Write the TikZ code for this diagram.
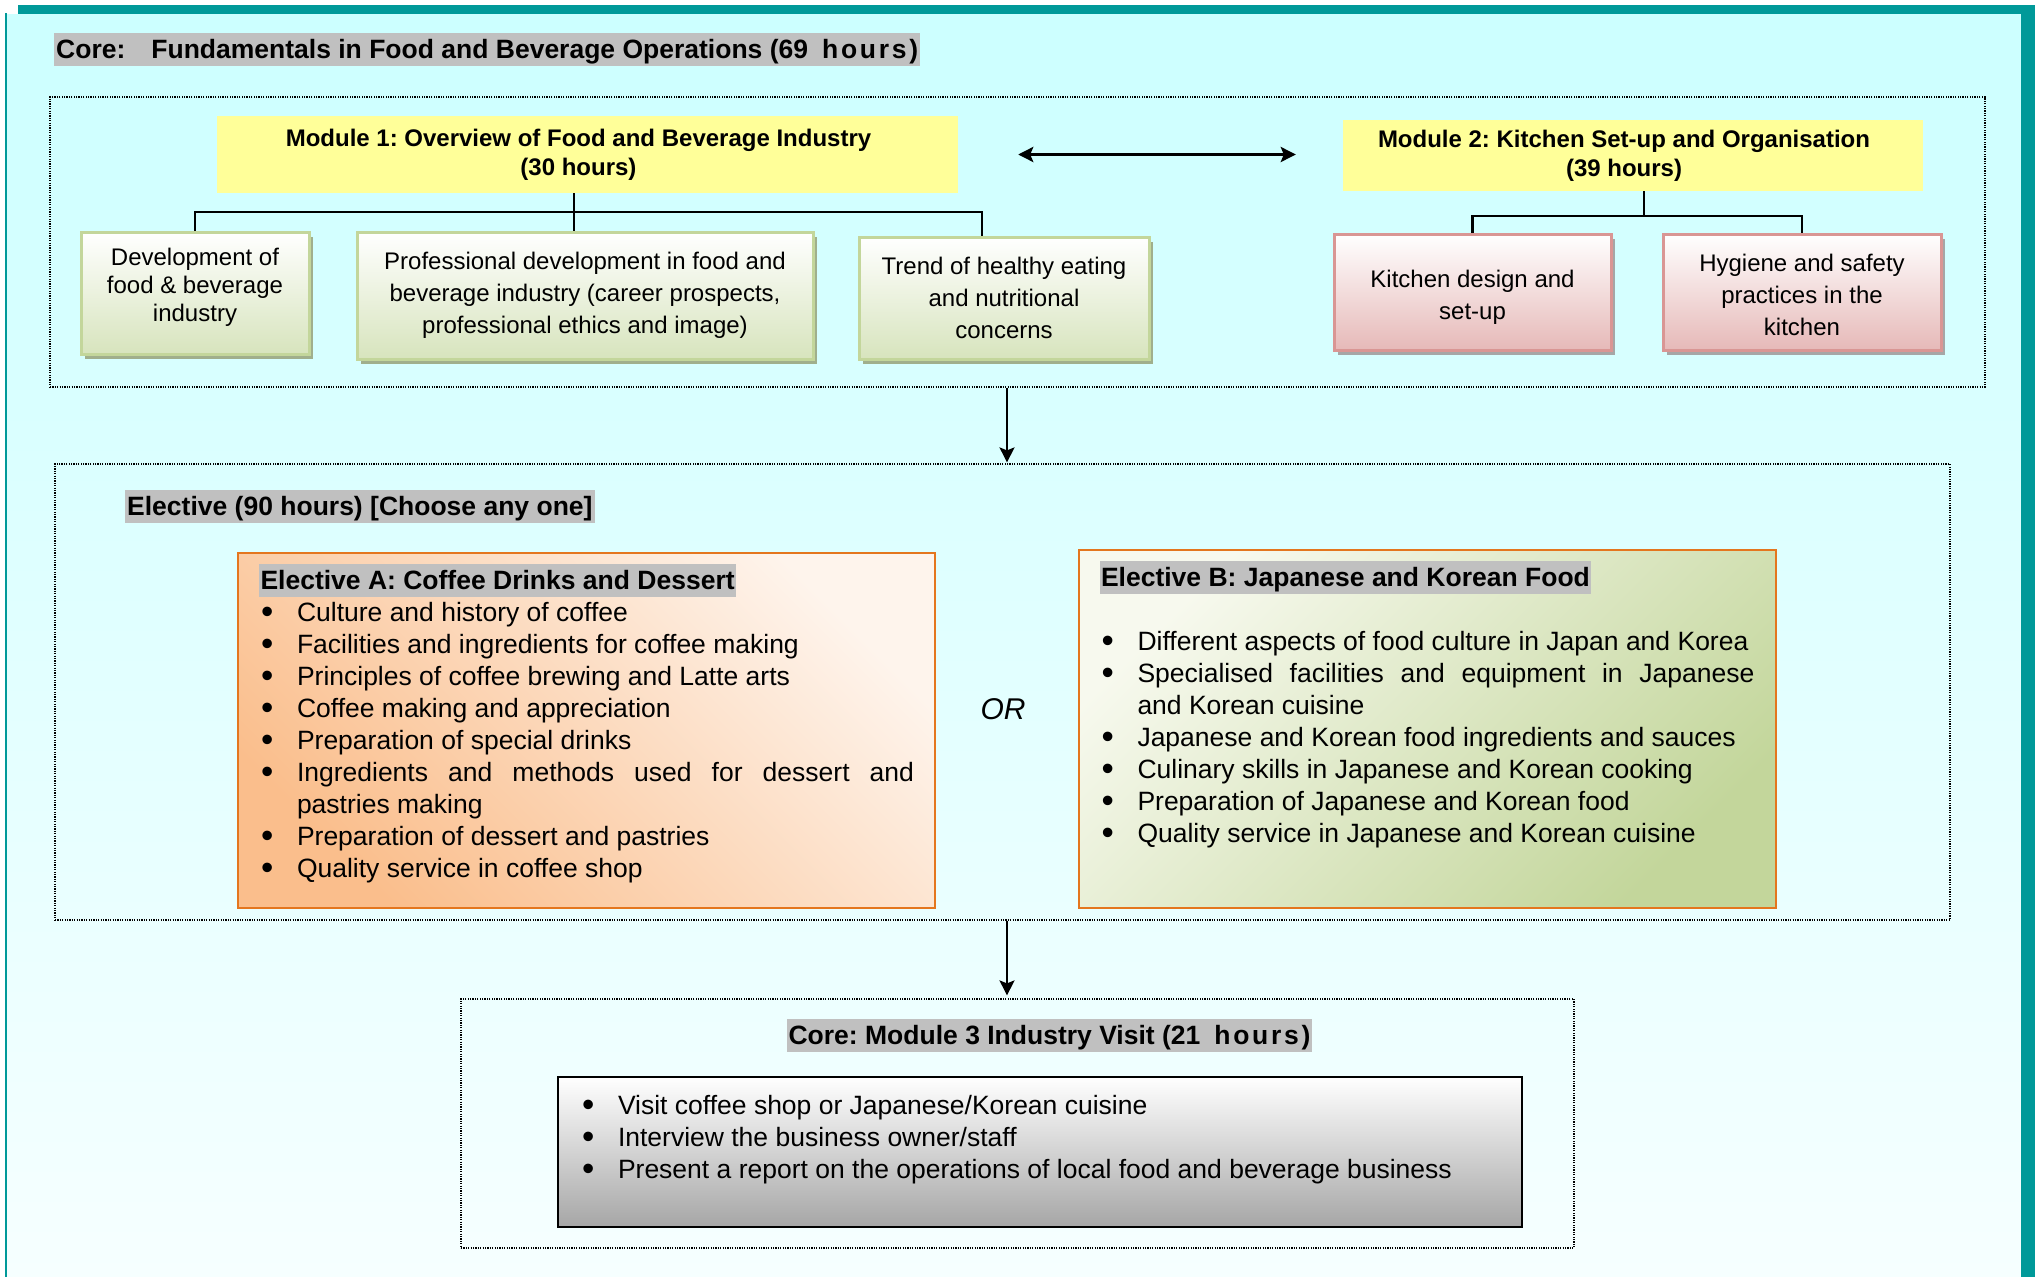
\documentclass[tikz,border=0pt]{standalone}
\usepackage{fontspec}
\setmainfont{Liberation Sans}
\usetikzlibrary{arrows.meta, positioning, shadows, calc}
\frenchspacing

\definecolor{frameteal}{RGB}{0,153,153}
\definecolor{bgtop}{RGB}{204,255,255}
\definecolor{bgbottom}{RGB}{246,255,255}
\definecolor{hlgray}{RGB}{192,192,192}
\definecolor{modyellow}{RGB}{255,255,153}
\definecolor{greenline}{RGB}{195,214,155}
\definecolor{greenfill}{RGB}{215,228,189}
\definecolor{greenshadow}{RGB}{160,175,140}
\definecolor{redline}{RGB}{217,150,148}
\definecolor{redfill}{RGB}{230,185,184}
\definecolor{orangeline}{RGB}{228,118,30}
\definecolor{peach}{RGB}{250,190,140}
\definecolor{peachlight}{RGB}{254,244,236}
\definecolor{olivelight}{RGB}{247,249,238}
\definecolor{olivedark}{RGB}{195,214,155}
\definecolor{visitgray}{RGB}{166,166,166}

\newcommand{\headbar}[1]{{\setlength{\fboxsep}{1.5pt}\colorbox{hlgray}{\rule[-0.23em]{0pt}{1.13em}\bfseries #1}}}
\newcommand{\bul}[1]{\par\noindent\hangindent=38pt\hangafter=1%
    \makebox[38pt][l]{\hspace{2pt}\rule{0pt}{0.9em}\raisebox{-2pt}{\fontsize{35}{32}\selectfont\textbullet}}#1}

\begin{document}
\begin{tikzpicture}[x=1pt, y=-1pt,
        hlbar/.style={fill=hlgray, inner xsep=2pt, inner ysep=1.5pt,
            text height=24pt, text depth=6pt,
            font=\bfseries\fontsize{26.5}{32}\selectfont},
        zone/.style={draw, dash pattern=on 1.2pt off 1.2pt, line width=1.2pt},
        module/.style={fill=modyellow, align=center, inner sep=0pt,
            font=\bfseries\fontsize{24}{29}\selectfont},
        topic/.style={draw=greenline, line width=3pt, top color=white,
            bottom color=greenfill, align=center, inner sep=0pt,
            font=\fontsize{24}{32}\selectfont,
            drop shadow={shadow xshift=4pt, shadow yshift=-5pt,
                fill=greenshadow, opacity=1}},
        kitchen/.style={draw=redline, line width=3pt, top color=white,
            bottom color=redfill, align=center, inner sep=0pt,
            font=\fontsize{24}{32}\selectfont,
            drop shadow={shadow xshift=4pt, shadow yshift=-5pt,
                fill=black!35, opacity=1}},
        elective/.style={draw=orangeline, line width=2pt, inner xsep=21pt,
            inner ysep=11pt, font=\fontsize{26.5}{32}\selectfont},
        branch/.style={draw, line width=2.5pt},
        flow/.style={draw, ->, >={Stealth[length=15pt, width=15pt, inset=3pt]},
            line width=2pt},
    ]
    \useasboundingbox (0,0) rectangle (2035,1277);
    \fill[white] (0,0) rectangle (2035,1277);
    \shade[top color=bgtop, bottom color=bgbottom] (7,14) rectangle (2021,1277);
    \fill[frameteal] (18,5) rectangle (2035,14);
    \fill[frameteal] (2021,5) rectangle (2035,1277);
    \fill[frameteal] (5,13) rectangle (7,1277);

    % Core part
    \node[hlbar, anchor=west] (coretitle) at (54,49.5)
        {Core:\hspace{26pt}Fundamentals in Food and Beverage Operations
        (69\hspace{14pt}\makebox[96pt][s]{h\hfil o\hfil u\hfil r\hfil s\hfil )}};
    \node[zone, minimum width=1935pt, minimum height=290pt] (coreframe) at (1017.5,242) {};
    \node[module, minimum width=741pt, minimum height=77pt] (mod1) at (587.5,154.5)
        {\hspace*{-18pt}Module 1: Overview of Food and Beverage Industry\\\hspace*{-18pt}(30 hours)};
    \node[module, minimum width=580pt, minimum height=71pt] (mod2) at (1633,155.5)
        {\hspace*{-18pt}Module 2: Kitchen Set-up and Organisation\\\hspace*{-18pt}(39 hours)};
    \node[topic, minimum width=228pt, minimum height=122pt, text depth=17pt,
        font=\fontsize{24}{28}\selectfont] (dev) at (195,293)
        {Development of\\food \& beverage\\industry};
    \node[topic, minimum width=456pt, minimum height=127pt] (prof) at (585,295.5)
        {Professional development in food and\\beverage industry (career prospects,\\professional ethics and image)};
    \node[topic, minimum width=290pt, minimum height=122pt] (trend) at (1004,298)
        {Trend of healthy eating\\and nutritional\\concerns};
    \node[kitchen, minimum width=277pt, minimum height=116pt, text height=59.5pt,
        text depth=5pt] (kdesign) at (1472.5,292)
        {Kitchen design and\\set-up};
    \node[kitchen, minimum width=278pt, minimum height=116pt, text height=87.5pt,
        text depth=0pt] (hygiene) at (1802,292)
        {Hygiene and safety\\practices in the\\kitchen};

    \coordinate (hub1) at (574,212);
    \coordinate (hub2) at (1644,216);
    \draw[branch] (mod1.south -| hub1) -- (prof.north -| hub1);
    \draw[branch] (dev.north) |- (hub1) -| ([xshift=-22pt]trend.north);
    \draw[branch] (mod2.south -| hub2) -- (hub2);
    \draw[branch] (kdesign.north) |- (hub2) -| (hygiene.north);
    \draw[flow, <->, line width=3pt, shorten <=60pt, shorten >=47pt]
        (mod1.east) -- (mod1.east -| mod2.west);

    % Elective part
    \node[zone, minimum width=1895pt, minimum height=456pt] (elecframe) at (1002.5,692) {};
    \node[hlbar, anchor=west] (electitle) at (125,506) {Elective (90 hours) [Choose any one]};
    \node[elective, top color=peachlight, bottom color=peach, shading angle=-45]
        (eleca) at (586.5,730.5) {\parbox[c][333pt][t]{655pt}{%
        \headbar{Elective A: Coffee Drinks and Dessert}
        \bul{Culture and history of coffee}
        \bul{Facilities and ingredients for coffee making}
        \bul{Principles of coffee brewing and Latte arts}
        \bul{Coffee making and appreciation}
        \bul{Preparation of special drinks}
        \bul{Ingredients and methods used for dessert and\linebreak pastries making}
        \bul{Preparation of dessert and pastries}
        \bul{Quality service in coffee shop}}};
    \node[elective, top color=olivelight, bottom color=olivedark, shading angle=45]
        (elecb) at (1427,729) {\parbox[c][336pt][t]{655pt}{%
        \headbar{Elective B: Japanese and Korean Food}\par\vspace{32pt}
        \bul{\mbox{Different aspects of food culture in Japan and Korea}}
        \bul{Specialised facilities and equipment in Japanese\linebreak and Korean cuisine}
        \bul{Japanese and Korean food ingredients and sauces}
        \bul{Culinary skills in Japanese and Korean cooking}
        \bul{Preparation of Japanese and Korean food}
        \bul{Quality service in Japanese and Korean cuisine}}};
    \node[font=\itshape\fontsize{30}{36}\selectfont] (orword) at (1003,709) {OR};

    % Module 3
    \node[zone, minimum width=1113pt, minimum height=249pt] (m3frame) at (1017.5,1123.5) {};
    \node[hlbar] (m3title) at (1049.5,1035.5)
        {Core: Module 3 Industry Visit (21\hspace{14pt}\makebox[96pt][s]{h\hfil o\hfil u\hfil r\hfil s\hfil )}};
    \node[draw, line width=2.5pt, top color=white, bottom color=visitgray,
        inner xsep=22pt, inner ysep=14pt, font=\fontsize{26.5}{32}\selectfont]
        (visit) at (1040,1152) {\parbox[c][122pt][t]{920pt}{%
        \bul{Visit coffee shop or Japanese/Korean cuisine}
        \bul{Interview the business owner/staff}
        \bul{Present a report on the operations of local food and beverage business}}};

    \coordinate (spine) at (1007,0);
    \draw[flow, shorten >=1pt] (coreframe.south -| spine) -- (elecframe.north -| spine);
    \draw[flow, shorten >=3pt] (elecframe.south -| spine) -- (m3frame.north -| spine);
\end{tikzpicture}
\end{document}
